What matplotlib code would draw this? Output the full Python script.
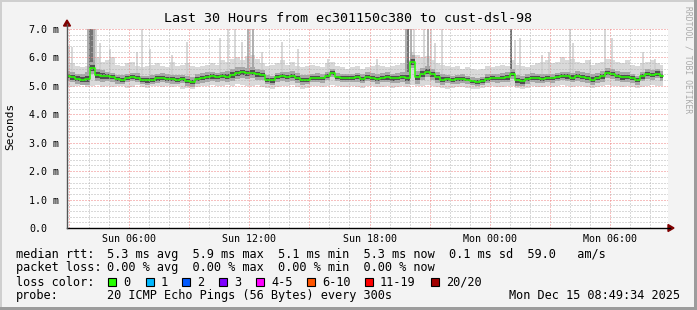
import matplotlib
matplotlib.use("Agg")
import matplotlib.pyplot as plt
import matplotlib.dates as mdates
from matplotlib.lines import Line2D
from matplotlib.patches import Rectangle, Polygon
from matplotlib.ticker import MultipleLocator, FixedLocator, FuncFormatter
from datetime import datetime, timedelta
import numpy as np

W, H = 697, 310
MONO = "DejaVu Sans Mono"

# --- data -------------------------------------------------------------
start = datetime(2025, 12, 14, 2, 54)
end = start + timedelta(hours=30)
step_min = 15

# median rtt (ms), one value per 15 min
median_ms = [
    5.35, 5.30, 5.25, 5.22, 5.25, 5.62, 5.38, 5.35, 5.33, 5.30,
    5.23, 5.22, 5.28, 5.31, 5.29, 5.20, 5.19, 5.22, 5.26, 5.28,
    5.25, 5.23, 5.22, 5.24, 5.16, 5.14, 5.25, 5.28, 5.31, 5.33,
    5.30, 5.34, 5.32, 5.38, 5.45, 5.47, 5.44, 5.46, 5.40, 5.38,
    5.22, 5.19, 5.30, 5.34, 5.32, 5.35, 5.28, 5.20, 5.22, 5.27,
    5.29, 5.26, 5.35, 5.45, 5.30, 5.27, 5.28, 5.27, 5.30, 5.25,
    5.32, 5.28, 5.24, 5.29, 5.30, 5.26, 5.28, 5.31, 5.27, 5.85,
    5.30, 5.42, 5.50, 5.40, 5.30, 5.22, 5.24, 5.21, 5.23, 5.25,
    5.22, 5.16, 5.14, 5.18, 5.25, 5.28, 5.26, 5.29, 5.30, 5.42,
    5.19, 5.16, 5.24, 5.28, 5.27, 5.25, 5.28, 5.26, 5.31, 5.34,
    5.33, 5.29, 5.35, 5.32, 5.28, 5.22, 5.27, 5.33, 5.45, 5.42,
    5.35, 5.30, 5.31, 5.27, 5.20, 5.33, 5.42, 5.38, 5.43, 5.35,
]

# light smoke envelope (ms)
smoke_hi = [
    5.75, 5.80, 5.70, 5.65, 5.70, 5.90, 6.00, 5.85, 5.90, 6.00,
    5.75, 5.70, 5.80, 5.85, 5.70, 5.65, 5.70, 5.75, 5.80, 5.70,
    5.65, 5.85, 5.70, 5.75, 5.80, 5.70, 5.65, 5.70, 5.75, 5.80,
    5.75, 5.90, 5.85, 5.95, 6.00, 5.90, 6.05, 6.10, 5.95, 5.80,
    5.70, 5.75, 5.80, 5.90, 5.75, 5.85, 5.70, 5.65, 5.70, 5.75,
    5.70, 5.65, 5.80, 5.85, 5.70, 5.65, 5.60, 5.65, 5.70, 5.60,
    5.65, 5.70, 5.75, 5.70, 5.65, 5.70, 5.75, 5.80, 5.90, 6.20,
    6.10, 6.00, 6.05, 5.90, 5.80, 5.75, 5.70, 5.65, 5.70, 5.60,
    5.65, 5.60, 5.55, 5.60, 5.70, 5.65, 5.70, 5.75, 5.70, 5.90,
    5.75, 5.70, 5.65, 5.75, 5.80, 5.85, 5.90, 5.80, 5.85, 6.00,
    5.90, 5.95, 5.85, 5.80, 5.90, 5.75, 5.80, 5.85, 5.95, 5.90,
    5.85, 5.80, 5.90, 5.75, 5.70, 5.80, 5.85, 5.90, 5.80, 5.75,
]
smoke_lo = [
    5.00, 4.95, 4.98, 5.02, 4.95, 5.00, 5.03, 4.97, 5.00, 4.95,
    4.98, 5.00, 4.93, 4.97, 5.02, 4.95, 4.92, 4.98, 5.00, 4.96,
    5.00, 4.95, 4.98, 4.90, 4.92, 4.88, 4.97, 5.00, 4.98, 5.02,
    4.98, 5.00, 5.03, 5.00, 5.05, 5.02, 4.98, 5.00, 5.02, 4.95,
    4.92, 4.90, 4.96, 5.00, 4.98, 5.02, 4.95, 4.90, 4.93, 4.98,
    5.00, 4.96, 5.00, 5.02, 4.98, 4.95, 4.97, 5.00, 4.96, 4.94,
    4.98, 5.00, 4.95, 4.97, 5.00, 4.94, 4.96, 5.00, 4.97, 5.02,
    4.98, 5.00, 5.02, 4.98, 4.95, 4.92, 4.90, 4.93, 4.95, 4.97,
    4.94, 4.90, 4.88, 4.92, 4.96, 4.98, 4.95, 4.97, 5.00, 4.98,
    4.93, 4.90, 4.94, 4.98, 4.96, 4.95, 4.98, 4.96, 5.00, 5.02,
    5.00, 4.97, 5.00, 4.98, 4.95, 4.92, 4.96, 5.00, 5.02, 5.00,
    4.98, 4.96, 5.00, 4.95, 4.92, 4.97, 5.00, 5.02, 5.00, 4.98,
]
# half width of the darker smoke band, one value per hour (ms)
spread_hourly = [
    0.18, 0.22, 0.16, 0.15, 0.16, 0.15, 0.17, 0.16, 0.20, 0.19,
    0.16, 0.17, 0.15, 0.14, 0.15, 0.16, 0.17, 0.22, 0.19, 0.15,
    0.14, 0.15, 0.18, 0.16, 0.15, 0.17, 0.18, 0.17, 0.16, 0.17,
]

# single tall pings: hours after start, top (ms), shade
spike_hours = [0.1, 0.25, 1.05, 1.15, 1.25, 1.35, 1.45, 1.65, 2.15, 3.5,
               3.75, 4.15, 5.25, 6.0, 7.65, 8.05, 8.4, 8.75, 9.05, 9.15,
               9.3, 9.75, 10.75, 11.55, 13.05, 15.45, 16.9, 17.0, 17.15, 17.3,
               17.8, 18.0, 18.15, 18.35, 18.7, 22.15, 22.35, 22.6, 23.7, 24.05,
               25.1, 25.25, 26.1, 26.85, 27.2, 28.75, 29.35]
spike_top = [6.4, 6.35, 7.2, 7.2, 7.2, 7.2, 7.2, 6.5, 6.3, 6.2,
             7.2, 6.3, 6.1, 6.55, 6.7, 7.2, 7.2, 6.55, 7.2, 7.2,
             7.2, 6.2, 6.55, 6.3, 5.95, 5.95, 7.2, 7.2, 7.2, 7.2,
             7.2, 7.2, 7.2, 6.5, 7.2, 7.2, 6.6, 6.7, 6.1, 6.2,
             7.2, 6.5, 5.9, 7.2, 6.7, 6.2, 5.95]
spike_shade = ["L", "L", "M", "D", "D", "M", "L", "L", "L", "L",
               "L", "L", "L", "L", "L", "L", "L", "L", "M", "L",
               "M", "L", "L", "L", "L", "L", "M", "D", "M", "L",
               "L", "M", "L", "L", "L", "D", "L", "L", "L", "L",
               "L", "L", "L", "L", "L", "L", "L"]
shade_colors = {"L": "#cdcdcd", "M": "#999999", "D": "#4a4a4a"}

y_ticks = [0, 1, 2, 3, 4, 5, 6, 7]

legend_rows = [
    ("median rtt:", "5.3 ms avg  5.9 ms max  5.1 ms min  5.3 ms now  0.1 ms sd  59.0   am/s"),
    ("packet loss:", "0.00 % avg  0.00 % max  0.00 % min  0.00 % now"),
    ("loss color:", None),
    ("probe:", "20 ICMP Echo Pings (56 Bytes) every 300s"),
]
loss_labels = ["0", "1", "2", "3", "4-5", "6-10", "11-19", "20/20"]
loss_colors = ["#26ff00", "#00b8ff", "#0059ff", "#7e00ff", "#ff00ff",
               "#ff5500", "#ff0000", "#a10000"]
loss_box_x = [108, 145.7, 182.3, 219.3, 256, 307, 365, 430.7]
timestamp = "Mon Dec 15 08:49:34 2025"
title = "Last 30 Hours from ec301150c380 to cust-dsl-98"

# --- figure -----------------------------------------------------------
def fx(px):
    return px / W

def fy(py):
    return 1 - py / H

fig = plt.figure(figsize=(W / 100, H / 100), dpi=100, facecolor="#f3f3f3")
ax = fig.add_axes([fx(67), fy(228), 601 / W, 199 / H])
ax.set_facecolor("white")

times = [start + timedelta(minutes=step_min * i) for i in range(len(median_ms))]
med = np.array(median_ms)
spread = np.repeat(spread_hourly, 60 // step_min)[:len(med)]

ax.fill_between(times, smoke_lo, smoke_hi, step="mid", color="#d9d9d9", lw=0, zorder=1)
ax.fill_between(times, med - spread, med + spread, step="mid", color="#a6a6a6", lw=0, zorder=1.2)
ax.fill_between(times, med - spread * 0.45, med + spread * 0.45, step="mid",
                color="#505050", lw=0, zorder=1.4)

sp_t = [start + timedelta(hours=h) for h in spike_hours]
sp_base = [median_ms[min(int(round(h * 60 / step_min)), len(med) - 1)] for h in spike_hours]
ax.vlines(sp_t, sp_base, spike_top, colors=[shade_colors[s] for s in spike_shade],
          lw=1.1, zorder=1.1)

ax.step(times, med, where="mid", color="#26ff00", lw=1.1, zorder=3)

ax.set_xlim(mdates.date2num(start), mdates.date2num(end))
ax.set_ylim(0, 7.0)

# grid
ax.xaxis.set_major_locator(mdates.HourLocator(byhour=range(0, 24, 3)))
ax.xaxis.set_minor_locator(mdates.HourLocator())
ax.xaxis.set_major_formatter(FuncFormatter(
    lambda v, pos: mdates.num2date(v).strftime("%a %H:%M")
    if mdates.num2date(v).hour % 6 == 0 else ""))
ax.yaxis.set_major_locator(FixedLocator(y_ticks))
ax.yaxis.set_minor_locator(MultipleLocator(0.2))
ax.yaxis.set_major_formatter(FuncFormatter(
    lambda v, pos: "0.0" if v == 0 else f"{v:.1f} m"))

ax.grid(which="minor", color="#b4b4b4", lw=0.72, ls=(0, (1, 2)))
ax.grid(which="major", color="#ee8080", lw=0.72, ls=(0, (1, 2)))
ax.set_axisbelow(False)
for s in ax.spines.values():
    s.set_visible(False)
ax.tick_params(which="both", length=0)
ax.tick_params(axis="x", pad=4, labelsize=7.2)
ax.tick_params(axis="y", pad=27.4, labelsize=7.2)
for lab in ax.get_xticklabels() + ax.get_yticklabels():
    lab.set_fontfamily(MONO)
for lab in ax.get_yticklabels():
    lab.set_horizontalalignment("left")

# axes lines and arrows
fig.add_artist(Line2D([fx(67), fx(670)], [fy(228), fy(228)], color="black", lw=1.0))
fig.add_artist(Line2D([fx(67), fx(67)], [fy(228), fy(24)], color="#555555", lw=1.0))
fig.add_artist(Polygon([[fx(668), fy(224.5)], [fx(674), fy(228)], [fx(668), fy(231.5)]],
                       closed=True, color="#800000"))
fig.add_artist(Polygon([[fx(63.5), fy(26)], [fx(67), fy(20)], [fx(70.5), fy(26)]],
                       closed=True, color="#800000"))

# texts
fig.text(fx(348), fy(19), title, family=MONO, fontsize=9.6, ha="center", va="center")
fig.text(fx(10), fy(126), "Seconds", family=MONO, fontsize=8, rotation=90,
         ha="center", va="center")
fig.text(fx(688), fy(60), "RRDTOOL / TOBI OETIKER", family=MONO, fontsize=5.8,
         rotation=270, color="#aaaaaa", ha="center", va="center")

row_y = [254.3, 267.7, 282.3, 295.7]
for (label, values), y in zip(legend_rows, row_y):
    fig.text(fx(16), fy(y), label, family=MONO, fontsize=8.6, va="center")
    if values:
        fig.text(fx(107), fy(y), values, family=MONO, fontsize=8.6, va="center")
for bx, col, lab in zip(loss_box_x, loss_colors, loss_labels):
    fig.add_artist(Rectangle((fx(bx), fy(row_y[2] + 4)), 8 / W, 8 / H,
                             facecolor=col, edgecolor="black", lw=0.8))
    fig.text(fx(bx + 15), fy(row_y[2]), lab, family=MONO, fontsize=8.6, va="center")
fig.text(fx(680), fy(row_y[3]), timestamp, family=MONO, fontsize=8.6,
         ha="right", va="center")

# frame
fig.add_artist(Rectangle((0, fy(2)), 1, 2 / H, facecolor="#cfcfcf", lw=0))
fig.add_artist(Rectangle((0, 0), 2 / W, 1, facecolor="#cfcfcf", lw=0))
fig.add_artist(Rectangle((0, 0), 1, 3 / H, facecolor="#9c9c9c", lw=0))
fig.add_artist(Rectangle((fx(W - 3), 0), 3 / W, 1, facecolor="#9c9c9c", lw=0))

fig.savefig("out.png", dpi=100, facecolor=fig.get_facecolor())
